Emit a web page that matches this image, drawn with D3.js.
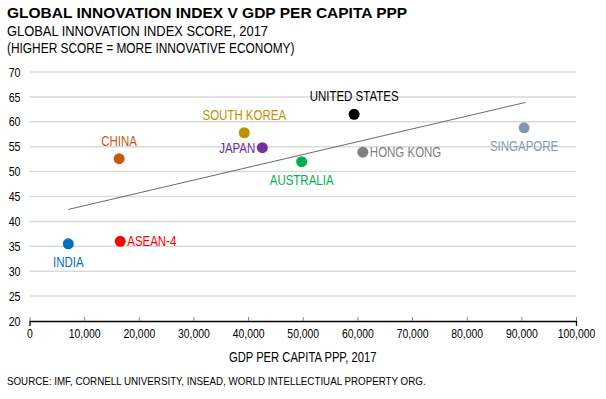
<!DOCTYPE html>
<html>
<head>
<meta charset="utf-8">
<script src="https://cdn.jsdelivr.net/npm/d3@7"></script>
<style>
  body { margin: 0; background: #fff; }
  svg text { font-family: "Liberation Sans", Arial, sans-serif; }
</style>
</head>
<body>
<div class="canvas"></div>
<script>
// data
const economies = ['INDIA', 'ASEAN-4', 'CHINA', 'SOUTH KOREA', 'JAPAN', 'AUSTRALIA', 'UNITED STATES', 'HONG KONG', 'SINGAPORE'];
const gdpPerCapita = [7100, 16600, 16400, 39300, 42600, 49800, 59400, 61000, 90500];
const innovationScore = [35.5, 36.0, 52.6, 57.8, 54.8, 52.0, 61.5, 53.9, 58.8];
const trendX = [7100, 90800];
const trendY = [42.4, 63.9];
const xTicks = [0, 10000, 20000, 30000, 40000, 50000, 60000, 70000, 80000, 90000, 100000];
const yTicks = [20, 25, 30, 35, 40, 45, 50, 55, 60, 65, 70];

const colours = ['#0070C0', '#FF0000', '#C55A11', '#BF9000', '#7030A0', '#00B050', '#000000', '#7F7F7F', '#8497B0'];
// where each label sits relative to its dot
const labelPos = ['below', 'right', 'above', 'above', 'left', 'below', 'above', 'right', 'below'];

// no narrow font installed, so squeeze the glyphs instead
function condense(sel, f) {
  sel.each(function() {
    const w = this.getComputedTextLength();
    d3.select(this).attr('textLength', w * f).attr('lengthAdjust', 'spacingAndGlyphs');
  });
}

const svg = d3.select('.canvas').append('svg')
  .attr('width', 606)
  .attr('height', 399);

const margin = { top: 72, right: 30, bottom: 78, left: 29.5 };
const graphWidth = 606 - margin.left - margin.right;
const graphHeight = 399 - margin.top - margin.bottom;

// titles
svg.append('text').attr('x', 7).attr('y', 18)
  .attr('font-size', 15.5).attr('font-weight', 'bold')
  .text('GLOBAL INNOVATION INDEX V GDP PER CAPITA PPP');
svg.append('text').attr('x', 7).attr('y', 36).attr('font-size', 14)
  .text('GLOBAL INNOVATION INDEX SCORE, 2017')
  .call(condense, 0.92);
svg.append('text').attr('x', 7).attr('y', 53).attr('font-size', 14)
  .text('(HIGHER SCORE = MORE INNOVATIVE ECONOMY)')
  .call(condense, 0.85);

const graph = svg.append('g')
  .attr('transform', `translate(${margin.left}, ${margin.top})`);

const x = d3.scaleLinear().domain([0, 100000]).range([0, graphWidth]);
const y = d3.scaleLinear().domain([20, 70]).range([graphHeight, 0]);

// gridlines
graph.append('g').selectAll('line')
  .data(yTicks.filter(t => t > 20))
  .enter().append('line')
  .attr('x1', 0).attr('x2', graphWidth)
  .attr('y1', d => y(d)).attr('y2', d => y(d))
  .attr('stroke', '#D9D9D9').attr('stroke-width', 1.5);

const yAxisGroup = graph.append('g');
const yAxis = d3.axisLeft(y).tickValues(yTicks).tickSize(0).tickPadding(9);
yAxisGroup.call(yAxis);
yAxisGroup.select('.domain').remove();
yAxisGroup.selectAll('text').attr('font-size', 13).attr('fill', '#000').call(condense, 0.82);

const xAxisGroup = graph.append('g').attr('transform', `translate(0, ${graphHeight})`);
const xAxis = d3.axisBottom(x)
  .tickValues(xTicks)
  .tickSizeInner(-4)
  .tickSizeOuter(5)
  .tickPadding(8)
  .tickFormat(d3.format(','));
xAxisGroup.call(xAxis);
xAxisGroup.select('.domain').attr('stroke', '#000').attr('stroke-width', 1.3);
xAxisGroup.selectAll('.tick line').attr('stroke', '#888');
xAxisGroup.selectAll('text').attr('font-size', 13).attr('fill', '#000').call(condense, 0.8);

svg.append('text')
  .attr('x', margin.left + graphWidth / 2).attr('y', 362)
  .attr('text-anchor', 'middle').attr('font-size', 14)
  .text('GDP PER CAPITA PPP, 2017')
  .call(condense, 0.8);

svg.append('text').attr('x', 7).attr('y', 385).attr('font-size', 11.5)
  .text('SOURCE: IMF, CORNELL UNIVERSITY, INSEAD, WORLD INTELLECTIUAL PROPERTY ORG.')
  .call(condense, 0.85);

// trend line
graph.append('line')
  .attr('x1', x(trendX[0])).attr('y1', y(trendY[0]))
  .attr('x2', x(trendX[1])).attr('y2', y(trendY[1]))
  .attr('stroke', '#595959').attr('stroke-width', 0.9);

const points = economies.map((name, i) => ({
  name, gdp: gdpPerCapita[i], score: innovationScore[i], colour: colours[i], pos: labelPos[i]
}));

graph.selectAll('circle').data(points).enter().append('circle')
  .attr('cx', d => x(d.gdp))
  .attr('cy', d => y(d.score))
  .attr('r', 5.5)
  .attr('fill', d => d.colour);

graph.selectAll('.label').data(points).enter().append('text')
  .attr('class', 'label')
  .attr('font-size', 14)
  .attr('fill', d => d.colour)
  .attr('x', d => {
    const cx = x(d.gdp);
    if (d.pos === 'right') return cx + 7;
    if (d.pos === 'left') return cx - 7;
    return cx;
  })
  .attr('y', d => {
    const cy = y(d.score);
    if (d.pos === 'above') return cy - 13;
    if (d.pos === 'below') return cy + 23;
    return cy + 5;
  })
  .attr('text-anchor', d => d.pos === 'right' ? 'start' : d.pos === 'left' ? 'end' : 'middle')
  .text(d => d.name)
  .call(condense, 0.82);
</script>
</body>
</html>
